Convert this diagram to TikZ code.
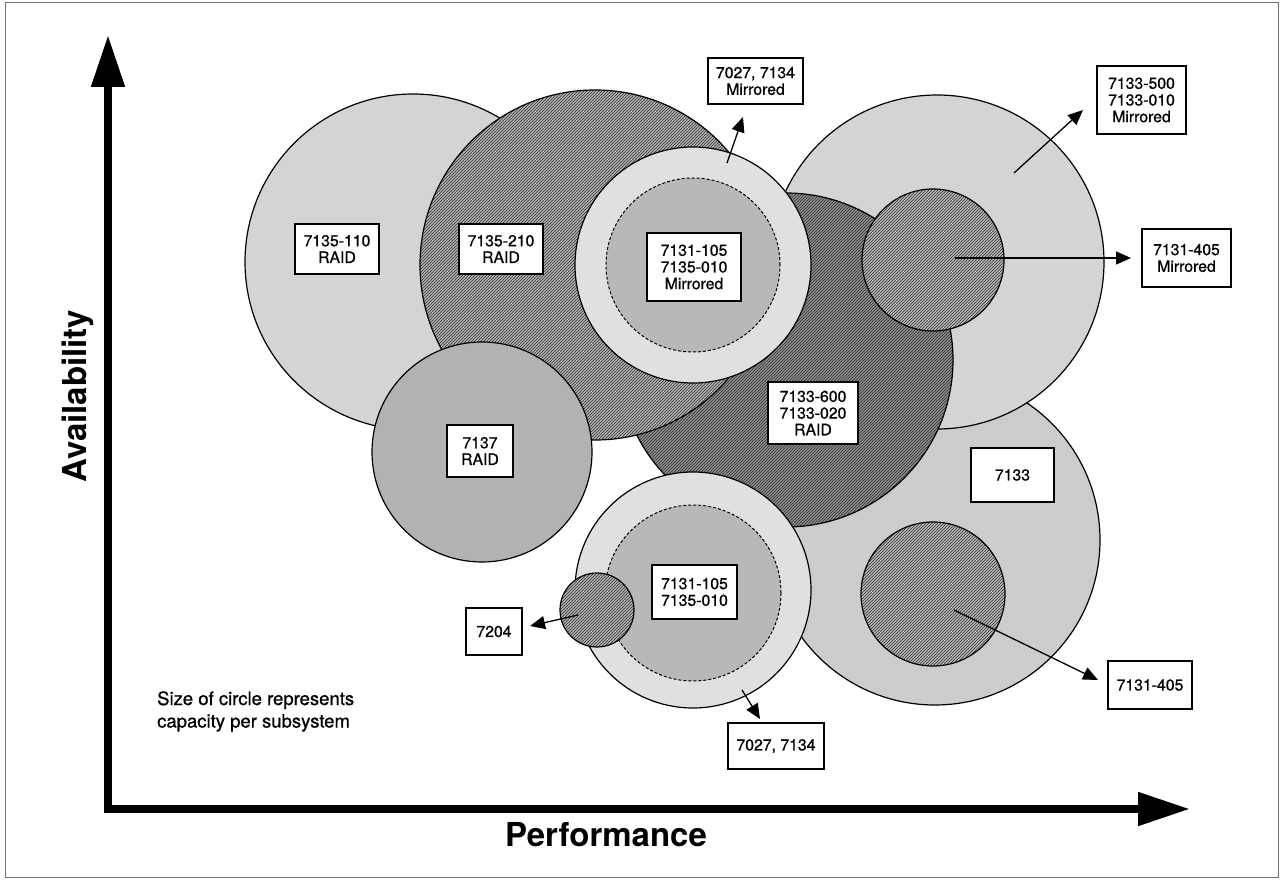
\documentclass[tikz,border=0pt]{standalone}
\usepackage{fontspec}
\setmainfont{TeX Gyre Heros}
\newfontfamily\tagfont{TeX Gyre Heros}[FakeBold=0.8]
\usetikzlibrary{arrows.meta,patterns}
\begin{document}
\begin{tikzpicture}[x=1pt,y=-1pt,
  disk/.style={circle,draw=black,line width=1.2pt,inner sep=0pt,minimum size=#1},
  core/.style={circle,draw=black,line width=1pt,dash pattern=on 3pt off 2pt,inner sep=0pt,minimum size=#1},
  hatched/.style={preaction={fill=#1},pattern=north east lines,pattern color=black!80},
  tag/.style={draw=black,fill=white,line width=1.2pt,inner sep=0pt,align=center,
    font=\tagfont\fontsize{15.8}{16.7}\selectfont},
  pointer/.style={line width=1.3pt,-{Triangle[length=15pt,width=13pt]}},
  axis/.style={line width=8pt,{Triangle[length=52pt,width=32pt]}-{Triangle[length=52pt,width=32pt]}},
  axislabel/.style={font=\bfseries\fontsize{33}{36}\selectfont}
]
\useasboundingbox (0,0) rectangle (1283,882);
\draw[line width=1pt,black!55] (5,3) rectangle (1278,877);

% subsystems, back to front
\node[disk=336pt,fill=black!17] (c110) at (413,262) {};
\node[disk=330pt,fill=black!20] (c7133) at (935,540) {};
\node[disk=334pt,fill=black!17] (c500) at (937,262) {};
\node[disk=334pt,hatched=black!45] (c600) at (786,360) {};
\node[disk=350pt,hatched=black!30] (c210) at (595,265) {};
\node[disk=220pt,fill=black!30] (c137) at (482,452) {};
\node[disk=142pt,hatched=black!28] (c405m) at (933,260) {};
\node[disk=144pt,hatched=black!28] (c405) at (933,594) {};
\node[disk=236pt,fill=black!12] (ringA) at (693,265) {};
\node[core=174pt,fill=black!28] (coreA) at (693,265) {};
\node[disk=236pt,fill=black!12] (ringB) at (693,590) {};
\node[core=176pt,fill=black!28] (coreB) at (693,593) {};
\node[disk=74pt,hatched=black!30] (c7204) at (597,610) {};

% labels
\node[tag,minimum width=84pt,minimum height=50pt] (b110) at (337,249) {7135-110\\RAID};
\node[tag,minimum width=84pt,minimum height=50pt] (b210) at (501,249) {7135-210\\RAID};
\node[tag,minimum width=66pt,minimum height=52pt] (b137) at (480,451) {7137\\RAID};
\node[tag,minimum width=94pt,minimum height=68pt] (bA) at (694,267) {7131-105\\7135-010\\Mirrored};
\node[tag,minimum width=90pt,minimum height=62pt] (b600) at (813,413) {7133-600\\7133-020\\RAID};
\node[tag,minimum width=95pt,minimum height=46pt] (bTop) at (755.5,81) {7027, 7134\\Mirrored};
\node[tag,minimum width=89pt,minimum height=68pt] (b500) at (1141.5,100) {7133-500\\7133-010\\Mirrored};
\node[tag,minimum width=89pt,minimum height=58pt] (b405m) at (1186.5,258) {7131-405\\Mirrored};
\node[tag,minimum width=83pt,minimum height=54pt] (b7133) at (1012.5,475) {7133};
\node[tag,minimum width=84pt,minimum height=48pt] (b405) at (1150,685) {7131-405};
\node[tag,minimum width=85pt,minimum height=54pt] (bB) at (694.5,592) {7131-105\\7135-010};
\node[tag,minimum width=56pt,minimum height=47pt] (b7204) at (494,631.5) {7204};
\node[tag,minimum width=96pt,minimum height=46pt] (bBot) at (776,746) {7027, 7134};

% pointers from circles towards their labels
\coordinate (pA) at (727,163);   \coordinate (qA) at (743,117);
\coordinate (p500) at (1014,173); \coordinate (q500) at (1083,110);
\coordinate (p405m) at (955,258); \coordinate (q405m) at (1131,258);
\coordinate (p405) at (954,610);  \coordinate (q405) at (1098,680);
\coordinate (p7204) at (578,615); \coordinate (q7204) at (530,626);
\coordinate (pB) at (742,690);    \coordinate (qB) at (760,719);
\draw[pointer] (pA) -- (qA);
\draw[pointer] (p500) -- (q500);
\draw[pointer] (p405m) -- (q405m);
\draw[pointer] (p405) -- (q405);
\draw[pointer] (p7204) -- (q7204);
\draw[pointer] (pB) -- (qB);

% axes
\coordinate (origin) at (108,809);
\coordinate (xend) at (1190,809);
\coordinate (yend) at (108,35);
\draw[axis] (xend) -- (origin) -- (yend);
\node[axislabel,rotate=90,anchor=base] (ylab) at (86,396) {Availability};
\node[axislabel,anchor=base] (xlab) at (606,846) {Performance};

\node[anchor=north west,align=left,inner sep=0pt,font=\tagfont\fontsize{18.5}{22.5}\selectfont]
  (note) at (157,691) {Size of circle represents\\capacity per subsystem};
\end{tikzpicture}
\end{document}
